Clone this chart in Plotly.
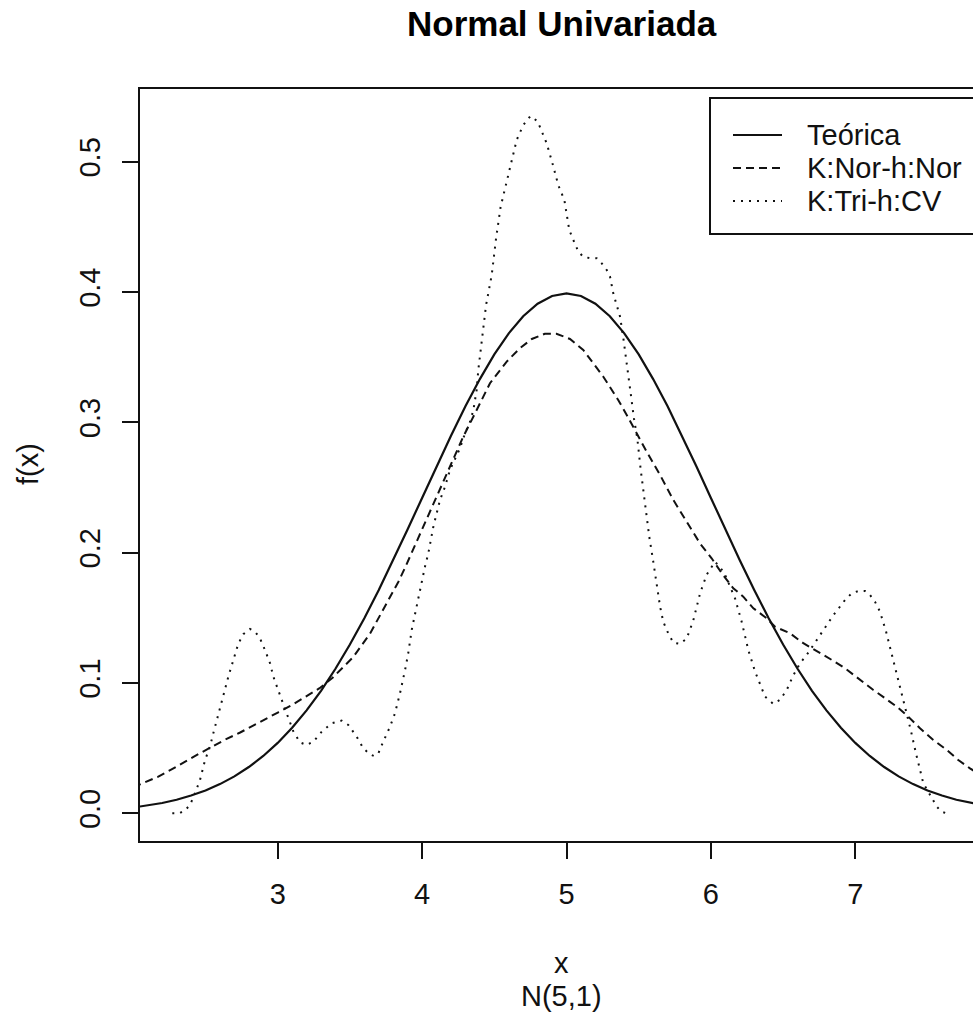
import plotly.graph_objects as go

# ---- data ----
x_teo = [2.0, 2.1, 2.2, 2.3, 2.4, 2.5, 2.6, 2.7, 2.8, 2.9, 3.0, 3.1, 3.2, 3.3, 3.4, 3.5, 3.6, 3.7, 3.8, 3.9,
         4.0, 4.1, 4.2, 4.3, 4.4, 4.5, 4.6, 4.7, 4.8, 4.9, 5.0, 5.1, 5.2, 5.3, 5.4, 5.5, 5.6, 5.7, 5.8, 5.9,
         6.0, 6.1, 6.2, 6.3, 6.4, 6.5, 6.6, 6.7, 6.8, 6.9, 7.0, 7.1, 7.2, 7.3, 7.4, 7.5, 7.6, 7.7, 7.8, 7.9, 8.0]
y_teo = [0.0044, 0.0060, 0.0079, 0.0104, 0.0136, 0.0175, 0.0224, 0.0283, 0.0355, 0.0440, 0.0540, 0.0656,
         0.0790, 0.0940, 0.1109, 0.1295, 0.1497, 0.1714, 0.1942, 0.2179, 0.2420, 0.2661, 0.2897, 0.3123,
         0.3332, 0.3521, 0.3683, 0.3814, 0.3910, 0.3970, 0.3989, 0.3970, 0.3910, 0.3814, 0.3683, 0.3521,
         0.3332, 0.3123, 0.2897, 0.2661, 0.2420, 0.2179, 0.1942, 0.1714, 0.1497, 0.1295, 0.1109, 0.0940,
         0.0790, 0.0656, 0.0540, 0.0440, 0.0355, 0.0283, 0.0224, 0.0175, 0.0136, 0.0104, 0.0079, 0.0060, 0.0044]

x_nor = [2.00, 2.08, 2.17, 2.265, 2.356, 2.46, 2.544, 2.636, 2.74, 2.82, 2.91, 3.004, 3.097, 3.19, 3.29,
         3.38, 3.454, 3.524, 3.64, 3.74, 3.836, 3.884, 4.008, 4.10, 4.193, 4.285, 4.378, 4.47, 4.586, 4.678,
         4.76, 4.85, 4.93, 5.024, 5.116, 5.186, 5.255, 5.359, 5.417, 5.555, 5.648, 5.74, 5.832, 5.925, 6.005,
         6.075, 6.155, 6.224, 6.294, 6.386, 6.444, 6.548, 6.64, 6.744, 6.837, 6.929, 7.033, 7.125, 7.206,
         7.287, 7.367, 7.448, 7.54, 7.633, 7.713, 7.794, 7.90]
y_nor = [0.020, 0.0235, 0.028, 0.0337, 0.0396, 0.046, 0.051, 0.0565, 0.062, 0.0665, 0.072, 0.0775, 0.083,
         0.089, 0.096, 0.104, 0.112, 0.120, 0.138, 0.1586, 0.1777, 0.189, 0.22, 0.243, 0.266, 0.289, 0.3095,
         0.33, 0.3466, 0.357, 0.364, 0.368, 0.368, 0.364, 0.3556, 0.345, 0.335, 0.317, 0.3057, 0.2775,
         0.2596, 0.2404, 0.2238, 0.207, 0.1957, 0.1842, 0.1727, 0.1662, 0.1573, 0.1497, 0.1432, 0.1381,
         0.1305, 0.124, 0.1177, 0.1113, 0.1023, 0.0946, 0.0883, 0.0818, 0.0741, 0.0652, 0.0563, 0.0486,
         0.0409, 0.0345, 0.027]

x_tri = [2.27, 2.32, 2.36, 2.393, 2.427, 2.462, 2.497, 2.531, 2.554, 2.589, 2.623, 2.658, 2.693, 2.727,
         2.762, 2.808, 2.843, 2.877, 2.912, 2.947, 2.97, 2.993, 3.028, 3.062, 3.108, 3.154, 3.2, 3.247,
         3.305, 3.374, 3.443, 3.489, 3.547, 3.593, 3.639, 3.667, 3.697, 3.731, 3.778, 3.812, 3.847, 3.882,
         3.904, 3.928, 3.951, 3.974, 3.997, 4.02, 4.043, 4.078, 4.124, 4.159, 4.193, 4.228, 4.262, 4.297,
         4.332, 4.355, 4.378, 4.389, 4.413, 4.443, 4.482, 4.512, 4.544, 4.581, 4.616, 4.655, 4.70, 4.75,
         4.80, 4.863, 4.902, 4.943, 4.985, 5.019, 5.047, 5.082, 5.116, 5.163, 5.209, 5.244, 5.278, 5.301,
         5.324, 5.348, 5.371, 5.393, 5.417, 5.44, 5.467, 5.49, 5.514, 5.544, 5.573, 5.601, 5.629, 5.648,
         5.67, 5.705, 5.74, 5.786, 5.832, 5.878, 5.925, 5.97, 6.028, 6.063, 6.098, 6.132, 6.167, 6.213,
         6.259, 6.306, 6.352, 6.375, 6.432, 6.478, 6.525, 6.571, 6.617, 6.663, 6.709, 6.756, 6.802, 6.848,
         6.929, 6.975, 7.021, 7.067, 7.102, 7.136, 7.171, 7.213, 7.245, 7.282, 7.314, 7.351, 7.384, 7.42,
         7.453, 7.471, 7.505, 7.54, 7.564, 7.598, 7.63]
y_tri = [0.0, 0.0, 0.0025, 0.0064, 0.0153, 0.0256, 0.0409, 0.0511, 0.0614, 0.0767, 0.0895, 0.1048, 0.1177,
         0.1300, 0.1375, 0.1414, 0.1394, 0.1343, 0.1253, 0.1151, 0.1048, 0.0972, 0.087, 0.0767, 0.0630,
         0.0545, 0.0524, 0.055, 0.0626, 0.0691, 0.0711, 0.0678, 0.0588, 0.0499, 0.0452, 0.0440, 0.046,
         0.055, 0.0665, 0.0767, 0.0921, 0.11, 0.1228, 0.1407, 0.1535, 0.1662, 0.179, 0.1893, 0.1995, 0.22,
         0.2404, 0.2507, 0.2635, 0.2724, 0.28, 0.2916, 0.3005, 0.3095, 0.325, 0.340, 0.362, 0.390, 0.413,
         0.441, 0.4655, 0.482, 0.5, 0.5167, 0.528, 0.535, 0.531, 0.514, 0.499, 0.482, 0.4707, 0.4477, 0.44,
         0.431, 0.427, 0.426, 0.426, 0.422, 0.417, 0.412, 0.399, 0.389, 0.381, 0.365, 0.347, 0.326, 0.303,
         0.288, 0.2635, 0.238, 0.2123, 0.193, 0.170, 0.1586, 0.147, 0.138, 0.131, 0.13, 0.134, 0.148,
         0.1688, 0.183, 0.193, 0.189, 0.183, 0.174, 0.165, 0.147, 0.1253, 0.1087, 0.096, 0.0895, 0.0839,
         0.087, 0.0946, 0.106, 0.1151, 0.1215, 0.129, 0.1368, 0.1445, 0.152, 0.1637, 0.1688, 0.1706,
         0.1706, 0.1675, 0.1624, 0.1547, 0.1394, 0.1253, 0.1087, 0.096, 0.078, 0.0639, 0.046, 0.0307,
         0.023, 0.0166, 0.0102, 0.0051, 0.0012, 0.0]

x_ticks = [3, 4, 5, 6, 7]
y_ticks = [0.0, 0.1, 0.2, 0.3, 0.4, 0.5]
y_ticklabels = ["0.0", "0.1", "0.2", "0.3", "0.4", "0.5"]
legend_labels = ["Teórica", "K:Nor-h:Nor", "K:Tri-h:CV"]
legend_dash = ["solid", "8px,5px", "2px,6px"]

FONT = "Liberation Sans, Arial, sans-serif"
INK = "#111111"

fig = go.Figure()
fig.add_trace(go.Scatter(x=x_teo, y=y_teo, mode="lines", name=legend_labels[0],
                         line=dict(color=INK, width=2.2, dash=legend_dash[0])))
fig.add_trace(go.Scatter(x=x_nor, y=y_nor, mode="lines", name=legend_labels[1],
                         line=dict(color=INK, width=2, dash=legend_dash[1])))
fig.add_trace(go.Scatter(x=x_tri, y=y_tri, mode="lines", name=legend_labels[2],
                         line=dict(color=INK, width=2, dash=legend_dash[2])))

W, H = 973, 1012
L, R, T, B = 140, 0, 89, 171
pw = W - L - R
ph = H - T - B

def px(xp):
    return (xp - L) / pw

def py(yp):
    return (H - B - yp) / ph

shapes = []
annotations = []
# legend box (extends beyond right edge, as in the reference)
shapes.append(dict(type="rect", xref="paper", yref="paper", x0=px(710), x1=px(1010),
                   y0=py(234), y1=py(98), line=dict(color=INK, width=2), fillcolor="rgba(0,0,0,0)"))
rows = [135, 168, 201]
for lab, dash, yr in zip(legend_labels, legend_dash, rows):
    shapes.append(dict(type="line", xref="paper", yref="paper", x0=px(733), x1=px(782),
                       y0=py(yr), y1=py(yr), line=dict(color=INK, width=2, dash=dash)))
    annotations.append(dict(text=lab, xref="paper", yref="paper", x=px(805), y=py(yr),
                            xanchor="left", yanchor="middle", showarrow=False,
                            font=dict(family=FONT, size=29, color=INK)))

# title & axis titles
annotations.append(dict(text="<b>Normal Univariada</b>", xref="paper", yref="paper",
                        x=px(561.5), y=py(24), xanchor="center", yanchor="middle", showarrow=False,
                        font=dict(family=FONT, size=35, color="#000000")))
annotations.append(dict(text="x", xref="paper", yref="paper", x=px(561.5), y=py(963),
                        xanchor="center", yanchor="middle", showarrow=False,
                        font=dict(family=FONT, size=29, color=INK)))
annotations.append(dict(text="N(5,1)", xref="paper", yref="paper", x=px(561.5), y=py(996),
                        xanchor="center", yanchor="middle", showarrow=False,
                        font=dict(family=FONT, size=29, color=INK)))
annotations.append(dict(text="f(x)", xref="paper", yref="paper", x=px(28), y=py(464),
                        xanchor="center", yanchor="middle", textangle=-90, showarrow=False,
                        font=dict(family=FONT, size=29, color=INK)))

fig.update_layout(
    width=W, height=H,
    margin=dict(l=L, r=R, t=T, b=B, pad=0),
    paper_bgcolor="white", plot_bgcolor="white",
    showlegend=False,
    font=dict(family=FONT, size=29, color=INK),
    shapes=shapes, annotations=annotations,
    xaxis=dict(range=[2.0464, 7.815], tickvals=x_ticks, ticktext=[str(v) for v in x_ticks],
               showgrid=False, zeroline=False, showline=True, linecolor=INK, linewidth=2,
               mirror=True, ticks="outside", ticklen=16, tickwidth=2, tickcolor=INK,
               tickfont=dict(family=FONT, size=29, color=INK), ticklabelstandoff=10),
    yaxis=dict(range=[-0.02126, 0.5558], tickvals=y_ticks, ticktext=y_ticklabels,
               showgrid=False, zeroline=False, showline=True, linecolor=INK, linewidth=2,
               mirror=False, ticks="outside", ticklen=16, tickwidth=2, tickcolor=INK,
               tickangle=-90, tickfont=dict(family=FONT, size=29, color=INK), ticklabelstandoff=10),
)

fig.write_html("out.html")
